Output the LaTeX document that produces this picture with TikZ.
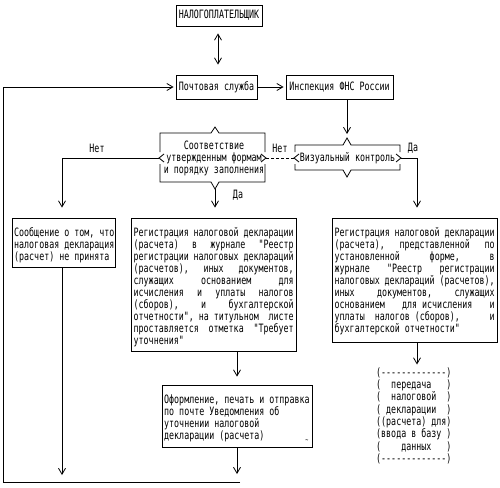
\documentclass[tikz,border=0pt]{standalone}
\usepackage{fontspec}
\newfontfamily\pix[FakeStretch=0.724,Ligatures=TeXOff]{DejaVu Sans Mono}
\usetikzlibrary{arrows.meta}
\newcommand\justln[1]{\hbox to 160pt{#1}}
\begin{document}
\begin{tikzpicture}[x=1pt,y=-1pt,
  every node/.style={font=\pix\fontsize{11.5}{12}\selectfont, inner sep=0pt},
  box/.style={draw, line width=0.8pt},
  txt/.style={anchor=north west, align=left},
  ln/.style={line width=0.8pt},
  tip/.tip={Straight Barb[length=6pt,width=7pt]},
  arr/.style={ln, -tip},
  lbl/.style={}]
\useasboundingbox (0,0) rectangle (500,487);

% boxes
\node[box, minimum width=86, minimum height=21] (tax) at (219,15.5) {НАЛОГОПЛАТЕЛЬЩИК};
\node[box, minimum width=81, minimum height=24] (post) at (216.5,87) {Почтовая служба};
\node[box, minimum width=107, minimum height=24] (insp) at (339.5,87) {Инспекция ФНС России};
\node[box, minimum width=103, minimum height=49] (sob) at (63.5,242.5) {};
\node[box, minimum width=165, minimum height=133] (mid) at (213.5,284.5) {};
\node[box, minimum width=165, minimum height=124] (reg) at (414.5,280) {};
\node[box, minimum width=150, minimum height=62] (ofo) at (237,416) {};

% texts of boxes
\node[txt] (sobt) at (14,226.5) {\rule{0pt}{9.5pt}Сообщение о том, что\\налоговая декларация\\(расчет) не принята};
\node[txt] (midt) at (133.5,226.5) {\rule{0pt}{9.5pt}\justln{Регистрация\hfill налоговой\hfill декларации}\\
\justln{(расчета)\hfill в\hfill журнале\hfill "Реестр}\\
\justln{регистрации\hfill налоговых\hfill деклараций}\\
\justln{(расчетов),\hfill иных\hfill документов,}\\
\justln{служащих\hfill основанием\hfill для}\\
\justln{исчисления\hfill и\hfill уплаты\hfill налогов}\\
\justln{(сборов),\hfill и\hfill бухгалтерской}\\
\justln{отчетности", на титульном\hfill листе}\\
\justln{проставляется\hfill отметка\hfill "Требует}\\
уточнения"};
\node[txt] (regt) at (334.5,226.5) {\rule{0pt}{9.5pt}\justln{Регистрация\hfill налоговой\hfill декларации}\\
\justln{(расчета),\hfill представленной\hfill по}\\
\justln{установленной\hfill форме,\hfill в}\\
\justln{журнале\hfill "Реестр\hfill регистрации}\\
\justln{налоговых\hfill деклараций\hfill (расчетов),}\\
\justln{иных\hfill документов,\hfill служащих}\\
\justln{основанием\hfill для исчисления\hfill и}\\
\justln{уплаты\hspace{10pt}налогов (сборов),\hfill и}\\
бухгалтерской отчетности"};
\node[txt] (ofot) at (164,394) {\rule{0pt}{9.5pt}Оформление, печать и отправка\\по почте Уведомления об\\уточнении налоговой\\декларации (расчета)};
\node (tl) at (307,441) {\fontsize{7}{7}\selectfont\textasciitilde};

% data transfer block
\node[txt, font=\pix\fontsize{11.5}{12.3}\selectfont] (data) at (376,366.5) {\rule{0pt}{9.5pt}(-------------)\\(~~передача~~~)\\(~~налоговой~~)\\(~декларации~~)\\((расчета)~для)\\(ввода~в~базу~)\\(~~~~данных~~~)\\(-------------)};

% decision 1
\node[align=center] (d1) at (214,158.5) {Соответствие\\утвержденным формам\\и порядку заполнения};
\coordinate (d1l) at (159,158);
\coordinate (d1r) at (266,158);
\coordinate (d1t) at (215,127);
\coordinate (d1b) at (215,189);
\draw[ln] (160,152) -- (160,133) -- (211,133) -- (d1t) -- (219,133) -- (265,133) -- (265,152);
\draw[ln] (160,164) -- (160,182) -- (211,182) -- (d1b) -- (219,182) -- (265,182) -- (265,164);
\draw[ln] (164,154) -- (d1l) -- (164,162);
\draw[ln] (261,154) -- (d1r) -- (261,162);

% decision 2
\node (d2) at (347.5,158.5) {Визуальный контроль};
\coordinate (d2l) at (294,158);
\coordinate (d2r) at (401,158);
\coordinate (d2t) at (347,138);
\coordinate (d2b) at (347,177);
\draw[ln] (295,152) -- (295,145) -- (343,145) -- (d2t) -- (351,145) -- (400,145) -- (400,152);
\draw[ln] (295,164) -- (295,170) -- (343,170) -- (d2b) -- (351,170) -- (400,170) -- (400,164);
\draw[ln] (299,154) -- (d2l) -- (299,162);
\draw[ln] (396,154) -- (d2r) -- (396,162);

% labels
\node (n1) at (97,148) {Нет};
\node (n2) at (280,148) {Нет};
\node (y1) at (413,148) {Да};
\node (y2) at (238,195) {Да};

% connectors
\coordinate (ax) at (218,0);
\draw[ln, tip-tip, shorten <=7pt, shorten >=10pt] (tax.south -| ax) -- (post.north -| ax);
\draw[arr, shorten >=2pt] (post) -- (insp);
\coordinate (lb) at (3,482);
\coordinate (br) at (240,482);
\draw[arr, shorten >=2pt] (br) -- (lb) -- (lb |- post.west) -- (post.west);
\draw[arr, shorten >=4pt] (insp.south -| d2t) -- (d2t);
\draw[ln, dash pattern=on 3.5pt off 1.5pt] (d2l) -- (d1r);
\coordinate (rx) at (417,0);
\draw[arr, shorten >=10pt] (d2r) -- (d2r -| rx) -- (reg.north -| rx);
\coordinate (lx) at (62,0);
\draw[arr, shorten >=10pt] (d1l) -- (d1l -| lx) -- (sob.north -| lx);
\draw[arr, shorten >=10pt] (d1b) -- (mid.north -| d1b);
\coordinate (sobend) at (62,475);
\draw[arr] (sob.south -| sobend) -- (sobend);
\draw[arr, shorten >=8pt] (mid.south -| ofo.north) -- (ofo.north);
\coordinate (ofoend) at (237,474);
\draw[arr] (ofo.south) -- (ofoend);
\draw[arr, shorten >=2pt] (reg.south -| rx) -- (data.north -| rx);
\end{tikzpicture}
\end{document}
